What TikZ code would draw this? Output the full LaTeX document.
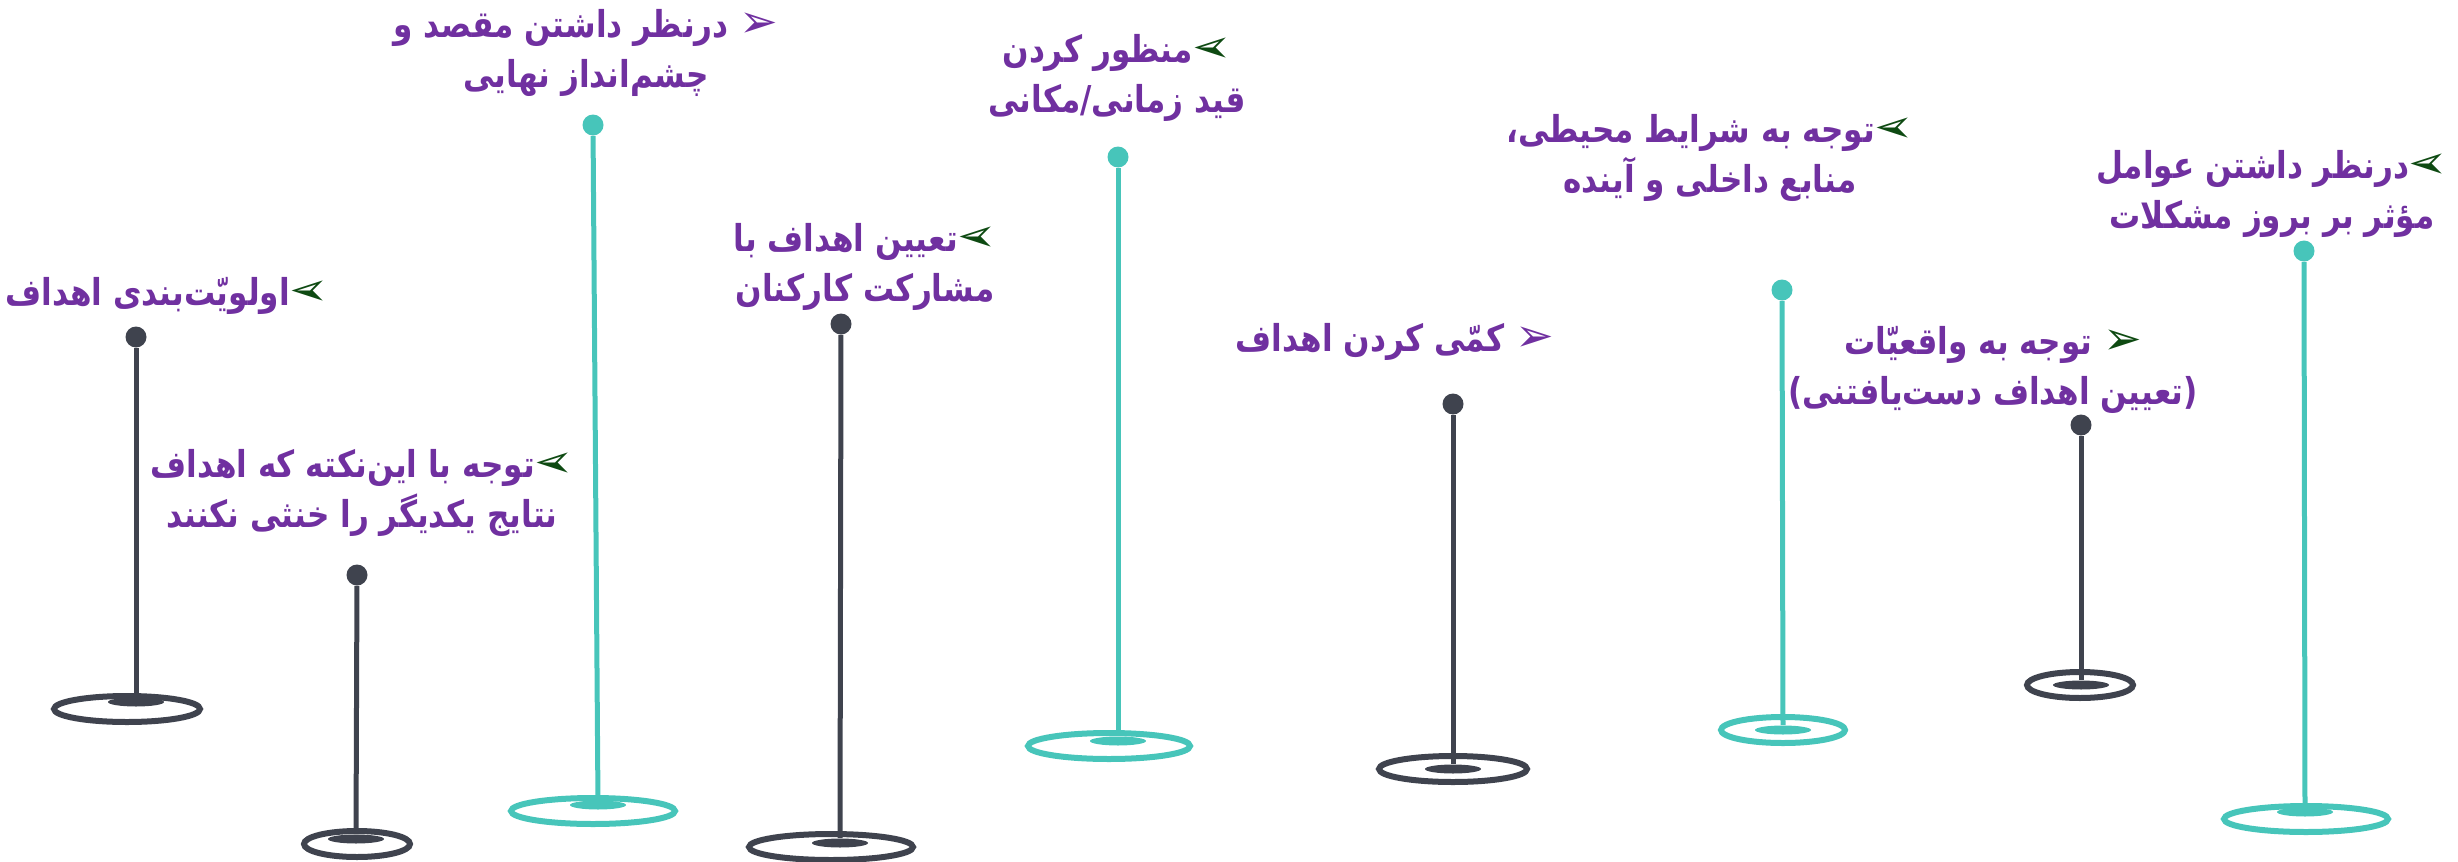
\documentclass[tikz,border=0pt]{standalone}
\usepackage{fontspec}
\usepackage{graphicx}
\usetikzlibrary{shapes.geometric}
\TeXXeTstate=1
\newfontfamily\farsifont[Script=Arabic, FakeStretch=0.84]{DejaVu Sans}
\newfontfamily\symbolfont{DejaVu Sans}
\definecolor{slate}{HTML}{3F434E}
\definecolor{pinteal}{HTML}{47C5BA}
\definecolor{goalpurple}{HTML}{7030A0}
\definecolor{tipgreen}{HTML}{0E4A12}
\newcommand{\pointl}{\textcolor{tipgreen}{\scalebox{-1.25}[1.25]{\symbolfont ➢}}}
\newcommand{\pointr}[1]{\ \textcolor{#1}{\scalebox{1.25}{\symbolfont ➢}}}

\begin{document}
\begin{tikzpicture}[
		x=0.5pt, y=-0.5pt,
		pinhead/.style={circle, minimum size=10.5pt, inner sep=0pt},
		base/.style={ellipse, draw, line width=3pt, minimum height=13pt, inner sep=0pt},
		hub/.style={ellipse, minimum width=28pt, minimum height=4.5pt, inner sep=0pt},
		stem/.style={line width=2.5pt},
		goal/.style={align=center, text=goalpurple, inner sep=0pt,
			font=\farsifont\bfseries\fontsize{18.5}{25}\selectfont}
	]
  \useasboundingbox (0, 0) rectangle (2458, 862);

  % pins: head, base ring, hub
  \node (head_1) [pinhead, fill=slate] at (136, 337) {};
  \node (base_1) [base, draw=slate, minimum width=73pt] at (127, 709) {};
  \node (hub_1) [hub, fill=slate] at (136, 702) {};

  \node (head_2) [pinhead, fill=slate] at (357, 575) {};
  \node (base_2) [base, draw=slate, minimum width=53pt] at (357, 844) {};
  \node (hub_2) [hub, fill=slate] at (356, 839) {};

  \node (head_3) [pinhead, fill=pinteal] at (593, 125) {};
  \node (base_3) [base, draw=pinteal, minimum width=82pt] at (593, 811) {};
  \node (hub_3) [hub, fill=pinteal] at (598, 805) {};

  \node (head_4) [pinhead, fill=slate] at (841, 324) {};
  \node (base_4) [base, draw=slate, minimum width=82pt] at (831, 847) {};
  \node (hub_4) [hub, fill=slate] at (840, 843) {};

  \node (head_5) [pinhead, fill=pinteal] at (1118, 157) {};
  \node (base_5) [base, draw=pinteal, minimum width=81pt] at (1109, 746) {};
  \node (hub_5) [hub, fill=pinteal] at (1118, 741) {};

  \node (head_6) [pinhead, fill=slate] at (1453, 404) {};
  \node (base_6) [base, draw=slate, minimum width=74pt] at (1453, 769) {};
  \node (hub_6) [hub, fill=slate] at (1453, 769) {};

  \node (head_7) [pinhead, fill=pinteal] at (1782, 290) {};
  \node (base_7) [base, draw=pinteal, minimum width=62pt] at (1783, 730) {};
  \node (hub_7) [hub, fill=pinteal] at (1783, 730) {};

  \node (head_8) [pinhead, fill=slate] at (2081, 425) {};
  \node (base_8) [base, draw=slate, minimum width=53pt] at (2080, 685) {};
  \node (hub_8) [hub, fill=slate] at (2081, 685) {};

  \node (head_9) [pinhead, fill=pinteal] at (2304, 251) {};
  \node (base_9) [base, draw=pinteal, minimum width=82pt] at (2306, 819) {};
  \node (hub_9) [hub, fill=pinteal] at (2305, 812) {};

  \draw [stem, slate] (head_1) -- (hub_1);
  \draw [stem, slate] (head_2) -- (hub_2);
  \draw [stem, pinteal] (head_3) -- (hub_3);
  \draw [stem, slate] (head_4) -- (hub_4);
  \draw [stem, pinteal] (head_5) -- (hub_5);
  \draw [stem, slate] (head_6) -- (hub_6);
  \draw [stem, pinteal] (head_7) -- (hub_7);
  \draw [stem, slate] (head_8) -- (hub_8);
  \draw [stem, pinteal] (head_9) -- (hub_9);

  % goals
  \node (goal_1) [goal] at (167, 296) {\beginR اولویّت‌بندی اهداف\endR\pointl};
  \node (goal_2) [goal] at (362, 493) {\beginR توجه با این‌نکته که اهداف\endR\pointl\\\beginR نتایج یکدیگر را خنثی نکنند\endR};
  \node (goal_3) [goal] at (586, 53) {\beginR درنظر داشتن مقصد و\endR\pointr{goalpurple}\\\beginR چشم‌انداز نهایی\endR};
  \node (goal_4) [goal] at (865, 267) {\beginR تعیین اهداف با\endR\pointl\\\beginR مشارکت کارکنان\endR};
  \node (goal_5) [goal] at (1117, 78) {\beginR منظور کردن\endR\pointl\\\beginR قید زمانی/مکانی\endR};
  \node (goal_6) [goal] at (1710, 158) {\beginR توجه به شرایط محیطی،\endR\pointl\\\beginR منابع داخلی و آینده\endR};
  \node (goal_7) [goal] at (1395, 342) {\beginR کمّی کردن اهداف\endR\pointr{goalpurple}};
  \node (goal_8) [goal] at (1993, 370) {\beginR توجه به واقعیّات\endR\pointr{tipgreen}\\\beginR(تعیین اهداف دست‌یافتنی)\endR};
  \node (goal_9) [goal] at (2272, 194) {\beginR درنظر داشتن عوامل\endR\pointl\\\beginR مؤثر بر بروز مشکلات\endR};
\end{tikzpicture}
\end{document}
